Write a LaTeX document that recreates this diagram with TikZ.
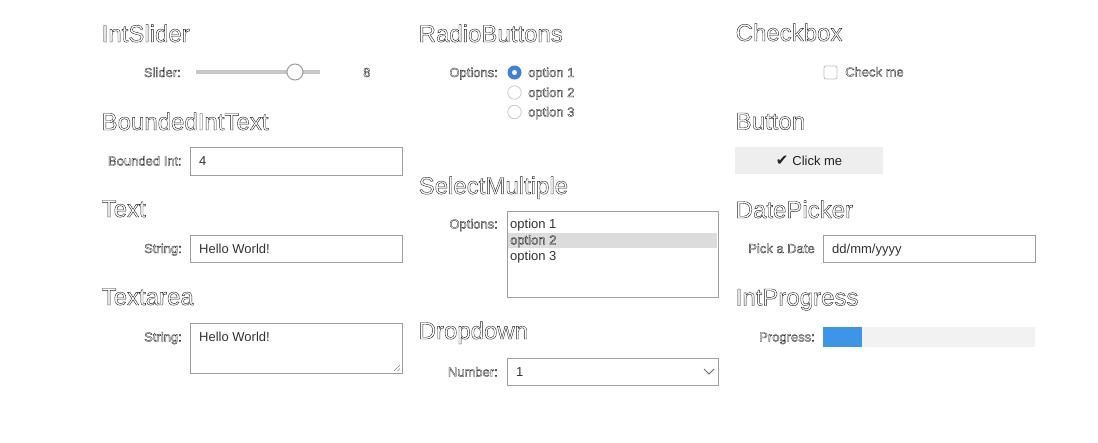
\documentclass[tikz,border=0pt]{standalone}
\usepackage{fontspec}
\setmainfont{Liberation Sans}
\newfontfamily\dejavu{DejaVu Sans}
\newcommand\olt[2][0.4]{\special{pdf:literal direct 1 Tr #1 w}#2\special{pdf:literal direct 0 Tr}}
\definecolor{bordergray}{HTML}{9E9E9E}
\definecolor{txt}{HTML}{333333}
\definecolor{lblc}{HTML}{1A1A1A}
\definecolor{headc}{HTML}{222222}
\definecolor{trackc}{HTML}{C6C6C6}
\definecolor{radioblue}{HTML}{3F7FE0}
\definecolor{btnfill}{HTML}{EEEEEE}
\definecolor{progbg}{HTML}{F2F2F2}
\definecolor{progblue}{HTML}{3D95E8}
\definecolor{selgray}{HTML}{DCDCDC}
\tikzset{
  heading/.style={anchor=base west,inner sep=0pt,text=headc,font=\fontsize{24}{24}\selectfont},
  lbl/.style={anchor=base east,inner sep=0pt,text=lblc,font=\fontsize{13}{13}\selectfont},
  lblw/.style={anchor=base west,inner sep=0pt,text=lblc,font=\fontsize{13}{13}\selectfont},
  val/.style={anchor=base west,inner sep=0pt,text=txt,font=\fontsize{13}{13}\selectfont},
  field/.style={draw=bordergray,line width=1pt,fill=white},
}
\begin{document}
\begin{tikzpicture}[x=1pt,y=-1pt]
\useasboundingbox (0,0) rectangle (1098,442);
\fill[white] (0,0) rectangle (1098,442);

% ---------- column 1 ----------
\node[heading] (h1) at (101.5,42) {\olt{IntSlider}};
\node[lbl] (l1) at (181,77) {\olt[0.3]{Slider:}};
\draw[trackc,line width=4pt] (196,72) coordinate (trs) -- (320,72) coordinate (tre);
\node[circle,draw=bordergray,fill=white,line width=1pt,minimum size=16pt,inner sep=0pt] (thumb) at (295,72) {};
\node[lblw] (v1) at (363,77) {\olt[0.3]{8}};

\node[heading] (h2) at (101.5,130) {\olt{BoundedIntText}};
\node[lbl] (l2) at (182,165.5) {\olt[0.3]{Bounded Int:}};
\draw[field] (190,147) rectangle (402,175);
\node[val] (v2) at (199,165.5) {4};

\node[heading] (h3) at (101.5,217) {\olt{Text}};
\node[lbl] (l3) at (182,253) {\olt[0.3]{String:}};
\draw[field] (190,235) rectangle (402,262);
\node[val] (v3) at (199,253) {Hello World!};

\node[heading] (h4) at (101.5,305) {\olt{Textarea}};
\node[lbl] (l4) at (182,341.5) {\olt[0.3]{String:}};
\draw[field] (190,323) rectangle (402,373);
\node[val] (v4) at (199,341.5) {Hello World!};
\draw[gray,line width=0.6pt] (400,365) -- (394,371) (400,368.5) -- (397.5,371);

% ---------- column 2 ----------
\node[heading] (h5) at (418.5,42) {\olt{RadioButtons}};
\node[lbl] (l5) at (498,77) {\olt[0.3]{Options:}};
\node[circle,fill=radioblue,minimum size=14pt,inner sep=0pt] (r1) at (514.5,72.5) {};
\fill[white] (r1.center) circle (2.5pt);
\node[circle,draw=black!20,line width=0.8pt,fill=white,minimum size=13.5pt,inner sep=0pt] (r2) at (514.5,92.5) {};
\node[circle,draw=black!20,line width=0.8pt,fill=white,minimum size=13.5pt,inner sep=0pt] (r3) at (514.5,112) {};
\node[lblw] (o1) at (528,77) {\olt[0.3]{option 1}};
\node[lblw] (o2) at (528,97) {\olt[0.3]{option 2}};
\node[lblw] (o3) at (528,116.5) {\olt[0.3]{option 3}};

\node[heading] (h6) at (418.5,194) {\olt{SelectMultiple}};
\node[lbl] (l6) at (498,228.5) {\olt[0.3]{Options:}};
\draw[field] (507,211) rectangle (718,297);
\fill[selgray] (508,233) rectangle (717,248);
\node[val] (s1) at (510,228.5) {option 1};
\node[lblw] (s2) at (510,244.5) {\olt[0.3]{option 2}};
\node[val] (s3) at (510,260.5) {option 3};

\node[heading] (h7) at (418.5,339) {\olt{Dropdown}};
\node[lbl] (l7) at (498,376.5) {\olt[0.3]{Number:}};
\draw[field] (507,358) rectangle (718,385);
\node[val] (v7) at (516,376.5) {1};
\draw[black!60,line width=0.8pt] (704,369) -- (709,374) -- (714,369);

% ---------- column 3 ----------
\node[heading] (h8) at (735.5,41) {\olt{Checkbox}};
\draw[black!25,line width=0.8pt,rounded corners=2pt,fill=white] (824,66) rectangle (837,79);
\node[lblw] (c1) at (845,76.5) {\olt[0.3]{Check me}};

\node[heading] (h9) at (735.5,129.5) {\olt{Button}};
\fill[btnfill] (735,147) rectangle (883,174);
\node[anchor=base,inner sep=0pt,text=headc,font=\fontsize{13}{13}\selectfont] (b1) at (809,165) {{\dejavu\fontsize{15}{15}\selectfont ✔}\hspace{4pt}Click me};

\node[heading] (h10) at (735.5,218) {\olt{DatePicker}};
\node[lbl] (l10) at (815,253) {\olt[0.3]{Pick a Date}};
\draw[field] (823,235) rectangle (1035,262);
\node[val] (v10) at (832,253) {dd/mm/yyyy};

\node[heading] (h11) at (735.5,305.5) {\olt{IntProgress}};
\node[lbl] (l11) at (815,341.5) {\olt[0.3]{Progress:}};
\fill[progbg] (823,327) rectangle (1035,347);
\fill[progblue] (823,327) rectangle (862,347);
\end{tikzpicture}
\end{document}
